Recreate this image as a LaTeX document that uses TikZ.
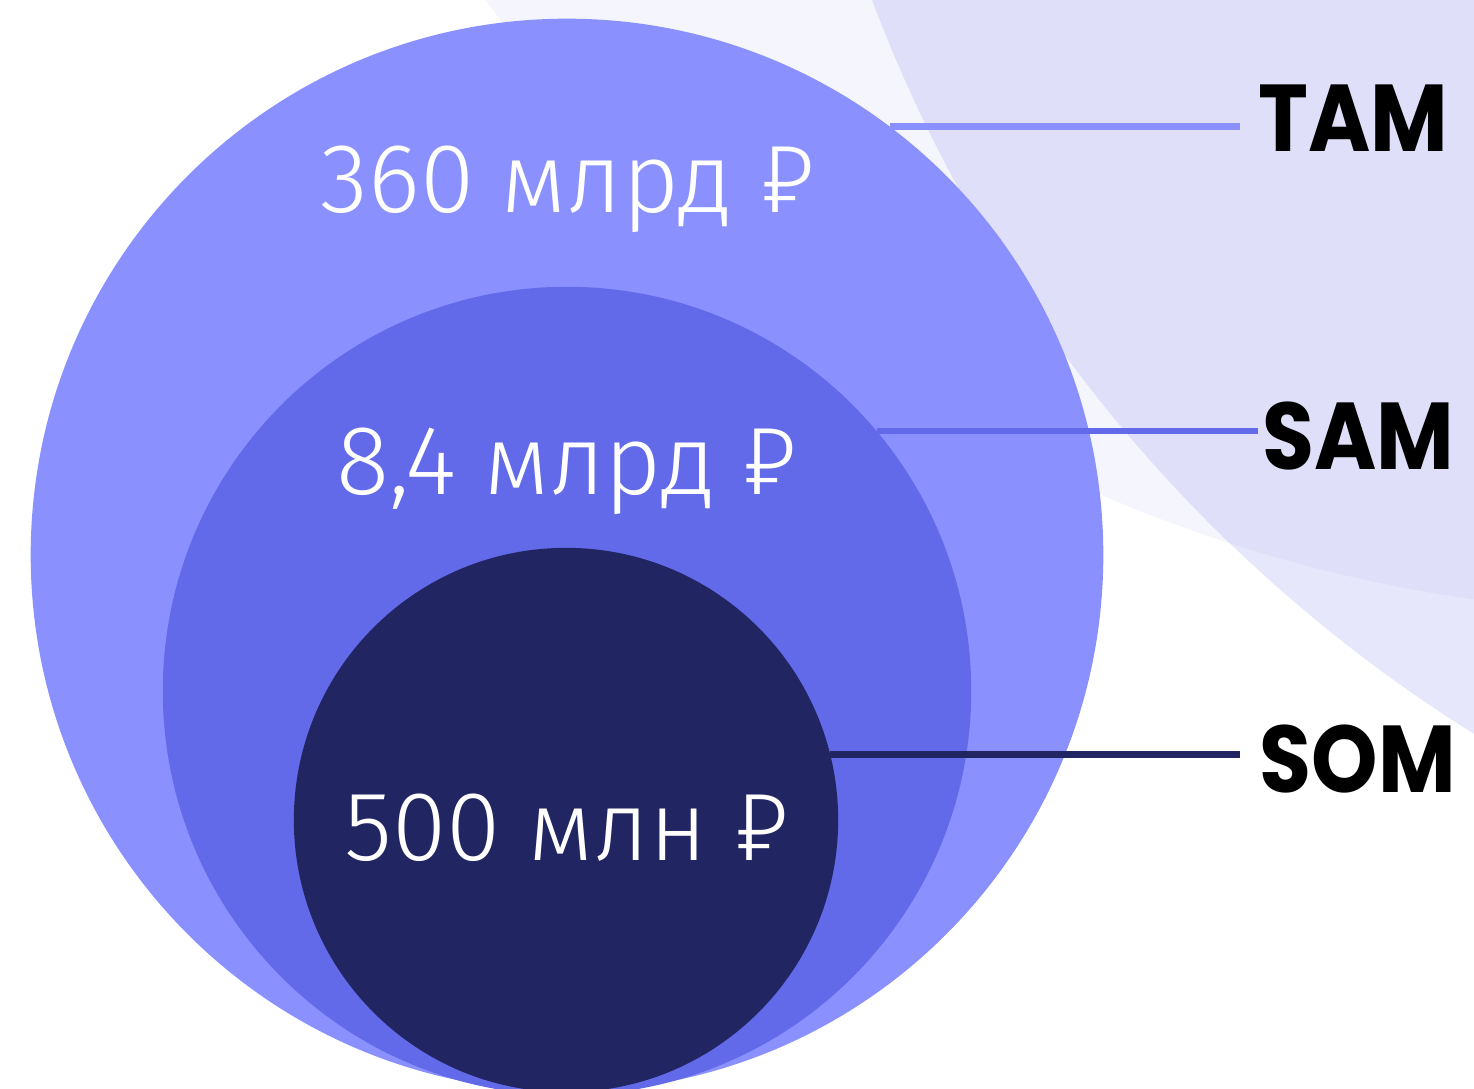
\documentclass[tikz,border=0pt]{standalone}
\usepackage{fontspec}
\usepackage{tikz}
\usetikzlibrary{positioning}
\newfontfamily\valfont{Fira Sans Light}
\newfontfamily\tagfont{Poppins}
\definecolor{tamblue}{HTML}{8A91FF}
\definecolor{samblue}{HTML}{626AEA}
\definecolor{somblue}{HTML}{212562}
\definecolor{haloA}{HTML}{F4F5FD}
\definecolor{haloB}{HTML}{E6E7FA}
\definecolor{haloAB}{HTML}{DFDFF9}
\tikzset{x=0.01cm,y=-0.01cm}
\tikzset{market/.style={circle,inner sep=0pt,outer sep=0pt,draw=none}}
\tikzset{value/.style={text=white,font=\valfont\fontsize{28}{28}\selectfont,anchor=base}}
\tikzset{tag/.style={font=\tagfont\bfseries\fontsize{27}{27}\selectfont,anchor=base west,inner sep=0pt,xscale=0.89,transform shape}}

\begin{document}
\begin{tikzpicture}[]
    \useasboundingbox (0,0) rectangle (1474,1089);
    \clip (0,0) rectangle (1474,1089);
        \fill[haloA] (1682,-858) circle (1472);
        \fill[haloB] (2255,-520) circle (1477);
        \begin{scope}
            \clip (1682,-858) circle (1472);
            \fill[haloAB] (2255,-520) circle (1477);
        \end{scope}
        \node[market, fill=tamblue, minimum size=10.72cm] (tam) at (567,555) {};
        \node[market, fill=samblue, minimum size=8.08cm]  (sam) at (567,691) {};
        \node[market, fill=somblue, minimum size=5.44cm]  (som) at (566,820) {};
        \node[tag] (ltam) at (1258,152) {TAM};
        \node[tag] (lsam) at (1262,470) {SAM};
        \node[tag] (lsom) at (1259,792) {SOM};
    \path[line width=1.9pt]
            (tam.53.5)  edge[tamblue, shorten >=0.18cm]  (tam.53.5 -| ltam.west)
            (sam.40)    edge[samblue, shorten >=0.04cm]  (sam.40 -| lsam.west)
            (som.14)    edge[somblue, shorten >=0.19cm]  (som.14 -| lsom.west)
            ;
        \node[value] (vtam) at (568,213) {360 млрд ₽};
        \node[value] (vsam) at (567,495) {8,4 млрд ₽};
        \node[value] (vsom) at (567,860) {500 млн ₽};
\end{tikzpicture}
\end{document}
